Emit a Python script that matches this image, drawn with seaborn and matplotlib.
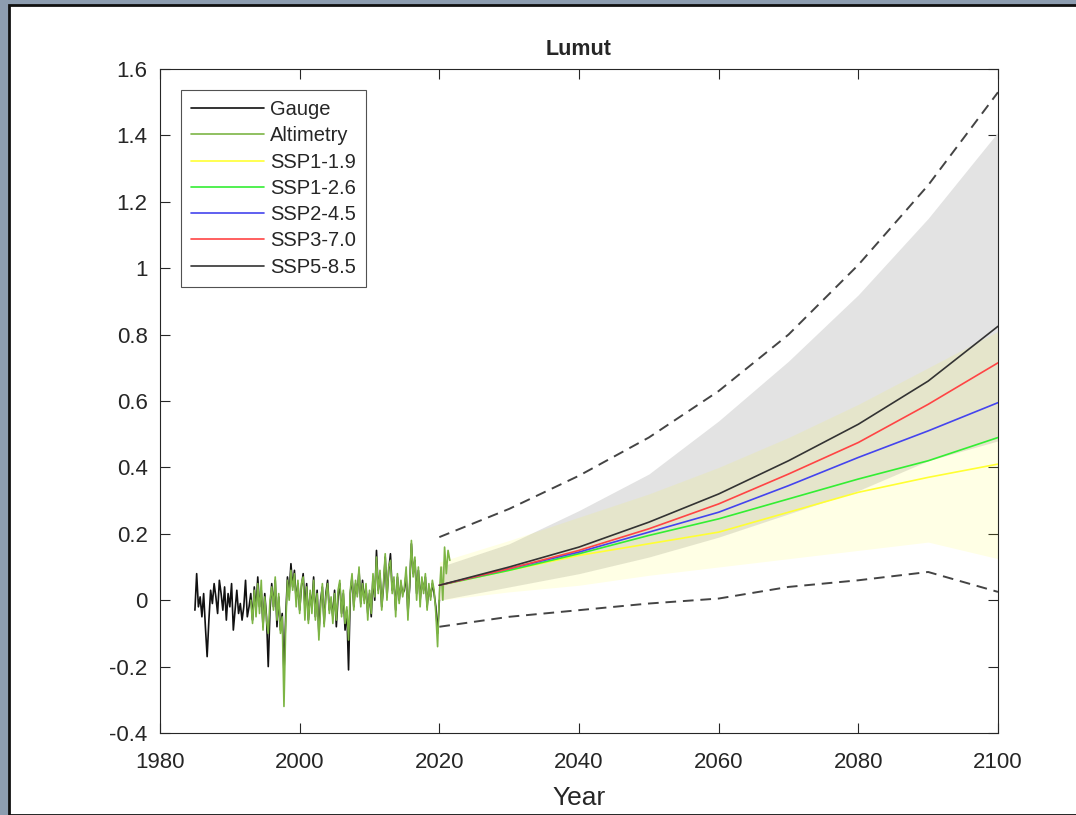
import numpy as np
import pandas as pd
import matplotlib.pyplot as plt
import matplotlib.patches as mpatches
import seaborn as sns

sns.set_style("ticks")
plt.rcParams['font.family'] = ['Liberation Sans', 'DejaVu Sans']

# Tide gauge record, quarterly values (m), 1985.0 - 2020.0
gauge_start = 1985.0
gauge = [
    -0.03, 0.08, -0.02, 0.01,
    -0.05, 0.02, -0.08, -0.17,
    -0.06, 0.03, -0.01, 0.05,
    0.01, -0.04, 0.06, 0.02,
    -0.03, 0.04, -0.06, 0.02,
    -0.02, 0.05, -0.09, -0.03,
    0.03, -0.04, -0.01, -0.06,
    -0.02, 0.06, -0.05, -0.02,
    0.02, -0.06, 0.04, -0.03,
    0.07, -0.02, 0.03, -0.08,
    0.02, -0.05, -0.20, -0.03,
    0.05, -0.02, 0.06, -0.08,
    0.01, -0.09, -0.04, -0.22,
    -0.05, 0.07, 0.02, 0.11,
    0.04, 0.09, 0.00, 0.05,
    -0.03, 0.04, 0.08, -0.02,
    0.05, -0.06, 0.02, -0.02,
    0.07, -0.05, 0.03, -0.10,
    0.00, 0.04, -0.07, 0.02,
    0.06, -0.03, 0.00, -0.05,
    0.03, -0.08, 0.01, 0.05,
    -0.04, 0.02, -0.09, -0.03,
    -0.21, 0.02, 0.07, -0.02,
    0.05, 0.02, 0.09, -0.01,
    0.06, 0.00, 0.04, -0.04,
    0.02, -0.05, 0.07, 0.00,
    0.15, 0.03, 0.08, -0.02,
    0.04, 0.13, 0.01, 0.09,
    0.14, 0.03, 0.06, -0.03,
    0.07, 0.00, 0.05, 0.02,
    0.03, 0.08, -0.04, 0.04,
    0.17, 0.08, 0.12, 0.02,
    0.09, 0.00, 0.06, 0.03,
    0.07, -0.02, 0.04, 0.01,
    0.05, 0.02, -0.02, -0.10,
    0.00,
]

# Satellite altimetry, quarterly values (m), 1993.0 - 2021.5
alt_start = 1993.0
altimetry = [
    0.00, -0.07, 0.03, -0.05,
    0.05, -0.04, 0.06, -0.09,
    0.01, -0.06, -0.10, 0.00,
    0.04, -0.03, 0.07, -0.06,
    0.02, -0.10, -0.05, -0.32,
    -0.08, 0.06, 0.00, 0.09,
    0.03, 0.08, -0.02, 0.06,
    -0.04, 0.05, 0.07, -0.06,
    0.04, -0.07, 0.03, -0.04,
    0.06, -0.06, 0.02, -0.12,
    -0.02, 0.05, -0.08, 0.01,
    0.05, -0.04, 0.01, -0.07,
    0.02, -0.06, 0.03, 0.06,
    -0.05, 0.03, -0.07, -0.02,
    -0.12, 0.03, 0.08, -0.03,
    0.06, 0.01, 0.10, -0.02,
    0.05, -0.01, 0.05, -0.06,
    0.03, -0.04, 0.08, 0.01,
    0.13, 0.02, 0.09, -0.03,
    0.05, 0.14, 0.00, 0.10,
    0.12, 0.02, 0.07, -0.05,
    0.08, -0.01, 0.06, 0.01,
    0.04, 0.10, -0.06, 0.05,
    0.18, 0.07, 0.13, 0.00,
    0.10, -0.02, 0.07, 0.02,
    0.08, -0.03, 0.05, 0.00,
    0.06, 0.03, -0.04, -0.14,
    0.02, 0.10, 0.00, 0.16,
    0.08, 0.15, 0.12,
]

# Projections
proj_years = [2020, 2030, 2040, 2050, 2060, 2070, 2080, 2090, 2100]
ssp119 = [0.045, 0.09, 0.135, 0.17, 0.205, 0.265, 0.325, 0.37, 0.41]
ssp126 = [0.045, 0.09, 0.14, 0.195, 0.245, 0.305, 0.365, 0.42, 0.49]
ssp245 = [0.045, 0.095, 0.145, 0.205, 0.265, 0.345, 0.43, 0.51, 0.595]
ssp370 = [0.045, 0.095, 0.15, 0.215, 0.29, 0.38, 0.475, 0.59, 0.715]
ssp585 = [0.045, 0.10, 0.16, 0.235, 0.32, 0.42, 0.53, 0.66, 0.825]

grey_low = [0.0, 0.04, 0.08, 0.13, 0.19, 0.26, 0.33, 0.42, 0.48]
grey_high = [0.10, 0.17, 0.27, 0.38, 0.54, 0.72, 0.92, 1.15, 1.41]
yellow_low = [0.0, 0.025, 0.045, 0.075, 0.10, 0.125, 0.15, 0.175, 0.125]
yellow_high = [0.115, 0.18, 0.25, 0.32, 0.40, 0.49, 0.59, 0.70, 0.81]
dash_low = [-0.08, -0.05, -0.03, -0.01, 0.005, 0.04, 0.06, 0.085, 0.025]
dash_high = [0.19, 0.275, 0.375, 0.49, 0.63, 0.80, 1.01, 1.25, 1.53]

gauge_df = pd.DataFrame({"year": gauge_start + np.arange(len(gauge)) / 4, "sl": gauge})
alt_df = pd.DataFrame({"year": alt_start + np.arange(len(altimetry)) / 4, "sl": altimetry})

fig = plt.figure(figsize=(10.76, 8.15), dpi=100, facecolor="#8d9db0")
# white figure window of the screenshot
fig.patches.append(mpatches.Rectangle((9 / 1076, 0), 1.0, (815 - 5) / 815,
                                      transform=fig.transFigure, facecolor="white",
                                      edgecolor="#111111", linewidth=2.0, zorder=-5))
ax = fig.add_axes([160 / 1076, 1 - 733 / 815, 838 / 1076, 664 / 815])

ax.fill_between(proj_years, grey_low, grey_high, color="#e3e3e3", linewidth=0, zorder=1)
ax.fill_between(proj_years, yellow_low, yellow_high, color="yellow", alpha=0.1,
                linewidth=0, zorder=2)

for d in (dash_low, dash_high):
    sns.lineplot(x=proj_years, y=d, ax=ax, color="#444444", linewidth=1.4,
                 dashes=False, linestyle=(0, (5.5, 3.5)), label="_nolegend_", zorder=3)

sns.lineplot(data=gauge_df, x="year", y="sl", ax=ax, color="#111111", linewidth=1.2,
             label="Gauge", zorder=4)
sns.lineplot(data=alt_df, x="year", y="sl", ax=ax, color="#7db545", linewidth=1.2,
             label="Altimetry", zorder=5)

ssp_names = ["SSP1-1.9", "SSP1-2.6", "SSP2-4.5", "SSP3-7.0", "SSP5-8.5"]
ssp_values = [ssp119, ssp126, ssp245, ssp370, ssp585]
ssp_colors = ["#ffff33", "#33ee33", "#4444ee", "#ff4444", "#333333"]
for name, vals, col in zip(ssp_names, ssp_values, ssp_colors):
    sns.lineplot(x=proj_years, y=vals, ax=ax, color=col, linewidth=1.2, label=name, zorder=6)

ax.set_xlim(1980, 2100)
ax.set_ylim(-0.4, 1.6)
ax.set_xticks(np.arange(1980, 2101, 20))
yt = np.round(np.arange(-0.4, 1.61, 0.2), 1)
ax.set_yticks(yt)
ax.set_yticklabels([f"{v:g}" for v in yt])
ax.tick_params(direction="in", length=7, width=0.8, colors="#262626", labelsize=16,
               top=True, right=True)
ax.tick_params(axis="x", pad=14)
ax.tick_params(axis="y", pad=9)
for s in ax.spines.values():
    s.set_visible(True)
    s.set_color("#262626")
    s.set_linewidth(0.8)
ax.set_title("Lumut", fontsize=15.5, fontweight="bold", pad=10)
ax.set_xlabel("Year", fontsize=19, color="#262626", labelpad=9)
ax.set_ylabel("")

leg = ax.legend(loc="upper left", fontsize=14.5, frameon=True, fancybox=False,
                edgecolor="#262626", handlelength=3.6, handletextpad=0.3,
                labelspacing=0.36, borderaxespad=1.05, borderpad=0.5)
leg.get_frame().set_linewidth(0.8)

plt.savefig("out.png", dpi=100, facecolor=fig.get_facecolor())
